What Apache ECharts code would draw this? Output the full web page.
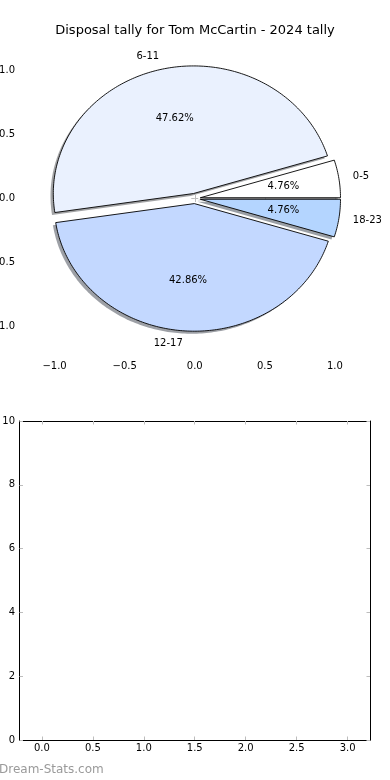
<!DOCTYPE html>
<html>
<head>
<meta charset="utf-8">
<script src="https://cdn.jsdelivr.net/npm/echarts@6/dist/echarts.min.js"></script>
<style>
html,body{margin:0;padding:0;background:#fff;}
#chart{width:390px;height:780px;}
</style>
</head>
<body>
<div id="chart"></div>
<script>
// ---- data ----
const titleText = 'Disposal tally for Tom McCartin - 2024 tally';
const categories = ['0-5', '6-11', '12-17', '18-23'];
const tallies = [1, 10, 9, 1];
const pieTicksX = [-1, -0.5, 0, 0.5, 1];
const pieTicksY = [-1, -0.5, 0, 0.5, 1];
const lowerTicksX = [0, 0.5, 1, 1.5, 2, 2.5, 3];
const lowerTicksY = [0, 2, 4, 6, 8, 10];

// ---- style ----
const sliceColors = ['#ffffff', '#eaf1fe', '#c3d8ff', '#b4d5ff'];
const EXPLODE = 0.04;
const FONT = 'DejaVu Sans';
const tickColor = '#bdbdbd';

const total = tallies.reduce((a, b) => a + b, 0);
const starts = [];
let acc = 0;
tallies.forEach(v => { starts.push(acc); acc += v; });

function fmt(v) {
  const s = Math.abs(v).toFixed(1);
  return v < 0 ? '\u2212' + s : s;
}

function wedgePoints(api, i, dx, dy) {
  const a0 = starts[i] / total * 2 * Math.PI;
  const a1 = (starts[i] + tallies[i]) / total * 2 * Math.PI;
  const am = (a0 + a1) / 2;
  const cx = EXPLODE * Math.cos(am) + dx;
  const cy = EXPLODE * Math.sin(am) + dy;
  const pts = [api.coord([cx, cy])];
  const n = Math.max(8, Math.ceil((a1 - a0) / (Math.PI / 180)));
  for (let k = 0; k <= n; k++) {
    const a = a0 + (a1 - a0) * k / n;
    pts.push(api.coord([cx + Math.cos(a), cy + Math.sin(a)]));
  }
  return { pts, am, cx, cy };
}

function shade(hex) {
  const r = parseInt(hex.slice(1, 3), 16), g = parseInt(hex.slice(3, 5), 16), b = parseInt(hex.slice(5, 7), 16);
  return 'rgba(' + Math.round(r * 0.3) + ',' + Math.round(g * 0.3) + ',' + Math.round(b * 0.3) + ',0.5)';
}

const chart = echarts.init(document.getElementById('chart'), null, { renderer: 'canvas' });

const tickStyle = { show: true, inside: true, length: 3.5, lineStyle: { color: tickColor, width: 1 } };
const labelStyle = { color: '#000', fontFamily: FONT, fontSize: 10 };

const option = {
  animation: false,
  backgroundColor: '#fff',
  title: {
    text: titleText, left: 'center', top: 19,
    textStyle: { fontFamily: FONT, fontSize: 13, fontWeight: 'normal', color: '#000' }
  },
  grid: [
    { left: 19.5, right: 20, top: 39, height: 319, containLabel: false, outerBoundsMode: 'none' },
    { left: 19.5, right: 20, top: 421, height: 319, containLabel: false, outerBoundsMode: 'none' }
  ],
  xAxis: [
    { type: 'value', gridIndex: 0, position: 'bottom', min: -1.25, max: 1.25,
      axisLine: { show: false }, splitLine: { show: false },
      axisTick: Object.assign({ customValues: pieTicksX }, tickStyle),
      axisLabel: Object.assign({ customValues: pieTicksX, margin: 3, formatter: fmt }, labelStyle) },
    { type: 'value', gridIndex: 0, position: 'top', min: -1.25, max: 1.25,
      axisLine: { show: false }, splitLine: { show: false },
      axisTick: Object.assign({ customValues: pieTicksX }, tickStyle),
      axisLabel: { show: false } },
    { type: 'value', gridIndex: 1, position: 'bottom', min: -0.22, max: 3.22,
      axisLine: { show: true, onZero: false, lineStyle: { color: '#000', width: 1 } }, splitLine: { show: false },
      axisTick: Object.assign({ customValues: lowerTicksX }, tickStyle),
      axisLabel: Object.assign({ customValues: lowerTicksX, margin: 3, formatter: fmt }, labelStyle) },
    { type: 'value', gridIndex: 1, position: 'top', min: -0.22, max: 3.22,
      axisLine: { show: true, onZero: false, lineStyle: { color: '#000', width: 1 } }, splitLine: { show: false },
      axisTick: Object.assign({ customValues: lowerTicksX }, tickStyle),
      axisLabel: { show: false } }
  ],
  yAxis: [
    { type: 'value', gridIndex: 0, position: 'left', min: -1.25, max: 1.25,
      axisLine: { show: false }, splitLine: { show: false },
      axisTick: Object.assign({ customValues: pieTicksY }, tickStyle),
      axisLabel: Object.assign({ customValues: pieTicksY, margin: 4.5, formatter: fmt }, labelStyle) },
    { type: 'value', gridIndex: 0, position: 'right', min: -1.25, max: 1.25,
      axisLine: { show: false }, splitLine: { show: false },
      axisTick: Object.assign({ customValues: pieTicksY }, tickStyle),
      axisLabel: { show: false } },
    { type: 'value', gridIndex: 1, position: 'left', min: 0, max: 10, interval: 2,
      axisLine: { show: true, onZero: false, lineStyle: { color: '#000', width: 1 } }, splitLine: { show: false },
      axisTick: Object.assign({ customValues: lowerTicksY }, tickStyle),
      axisLabel: Object.assign({ customValues: lowerTicksY, margin: 4.5 }, labelStyle) },
    { type: 'value', gridIndex: 1, position: 'right', min: 0, max: 10, interval: 2,
      axisLine: { show: true, onZero: false, lineStyle: { color: '#000', width: 1 } }, splitLine: { show: false },
      axisTick: Object.assign({ customValues: lowerTicksY }, tickStyle),
      axisLabel: { show: false } }
  ],
  graphic: [
    { type: 'text', left: -1, top: 764, z: 100,
      style: { text: 'Dream-Stats.com', fill: '#9a9a9a', fontFamily: FONT, fontSize: 12, fontWeight: 'normal' } }
  ],
  series: [
    {
      type: 'custom', name: 'shadow', xAxisIndex: 0, yAxisIndex: 0, z: 1, clip: false,
      data: categories.map((c, i) => [i, tallies[i]]),
      renderItem: function (params, api) {
        const i = params.dataIndex;
        const w = wedgePoints(api, i, -0.02, -0.02);
        return { type: 'polygon', shape: { points: w.pts }, style: { fill: shade(sliceColors[i]), stroke: null } };
      }
    },
    {
      type: 'custom', name: 'slices', xAxisIndex: 0, yAxisIndex: 0, z: 2, clip: false,
      data: categories.map((c, i) => [i, tallies[i]]),
      renderItem: function (params, api) {
        const i = params.dataIndex;
        const w = wedgePoints(api, i, 0, 0);
        const lab = api.coord([w.cx + 1.1 * Math.cos(w.am), w.cy + 1.1 * Math.sin(w.am)]);
        const pct = api.coord([w.cx + 0.6 * Math.cos(w.am), w.cy + 0.6 * Math.sin(w.am)]);
        const xl = w.cx + 1.1 * Math.cos(w.am);
        return {
          type: 'group',
          children: [
            { type: 'polygon', shape: { points: w.pts },
              style: { fill: sliceColors[i], stroke: '#000', lineWidth: 0.9, lineJoin: 'miter' } },
            { type: 'text', x: lab[0], y: lab[1], z2: 10,
              style: { text: categories[i], fill: '#000', fontFamily: FONT, fontSize: 10,
                       align: xl < 0 ? 'right' : 'left', verticalAlign: 'middle' } },
            { type: 'text', x: pct[0], y: pct[1], z2: 10,
              style: { text: (api.value(1) / total * 100).toFixed(2) + '%', fill: '#000', fontFamily: FONT, fontSize: 10,
                       align: 'center', verticalAlign: 'middle' } }
          ]
        };
      }
    },
    { type: 'line', xAxisIndex: 2, yAxisIndex: 2, data: [], silent: true }
  ]
};
chart.setOption(option);
</script>
</body>
</html>
